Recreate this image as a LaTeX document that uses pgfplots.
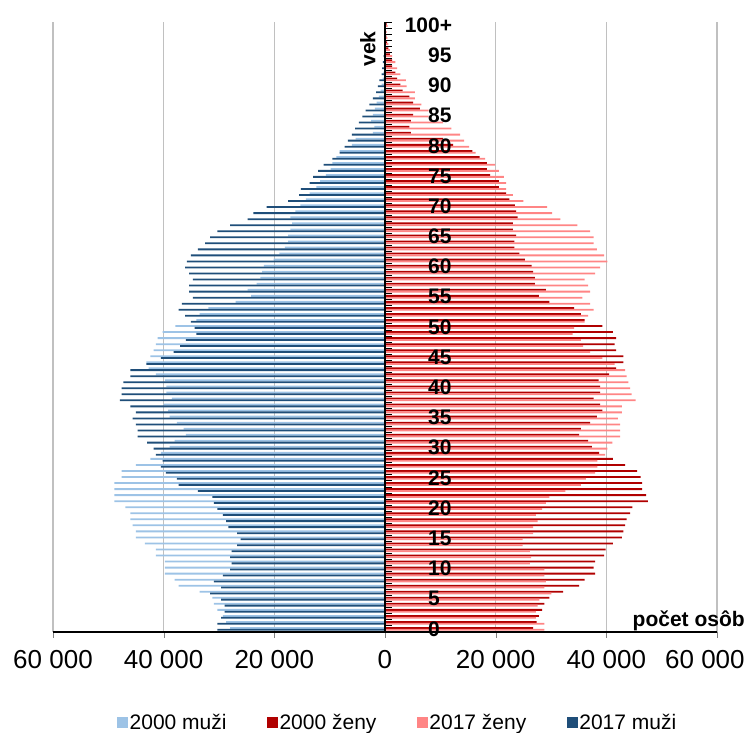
\documentclass[border=0pt]{standalone}
\usepackage{pgfplots}
\pgfplotsset{compat=1.18}
\usepackage{pgfplotstable}
\usepackage{fontspec}
\setmainfont{Liberation Sans}

\definecolor{mA}{HTML}{9DC3E6}% 2000 muzi
\definecolor{fA}{HTML}{B00000}% 2000 zeny
\definecolor{fB}{HTML}{FF8585}% 2017 zeny
\definecolor{mB}{HTML}{1F4E79}% 2017 muzi
\definecolor{gridgray}{HTML}{C0C0C0}

% grid under the bars, tick labels and axis lines over them
\pgfplotsset{
  layers/barsmid/.define layer set={axis background,axis grid,main,axis ticks,axis lines,axis tick labels,axis descriptions,axis foreground}{
    grid style={/pgfplots/on layer=axis grid},
    tick style={/pgfplots/on layer=axis ticks},
    axis line style={/pgfplots/on layer=axis lines},
    label style={/pgfplots/on layer=axis descriptions},
    legend style={/pgfplots/on layer=axis descriptions},
    title style={/pgfplots/on layer=axis descriptions},
    colorbar style={/pgfplots/on layer=axis descriptions},
    ticklabel style={/pgfplots/on layer=axis tick labels},
    axis background@ style={/pgfplots/on layer=axis background},
    3d box foreground style={/pgfplots/on layer=axis foreground},
  },
}

% age, 2000 men, 2000 women, 2017 women, 2017 men
\pgfplotstableread{
age m2000 f2000 f2017 m2017
0 28000 26800 28800 30300
1 28700 27400 28800 30300
2 29300 27800 27300 29600
3 30300 28400 27300 29000
4 30900 28800 27600 29000
5 31200 29700 27900 29600
6 33500 32200 30100 31600
7 37300 35100 28800 29600
8 38000 36100 29100 30900
9 39800 38000 28800 29300
10 39800 37700 28800 28000
11 39800 38000 26200 27700
12 41400 39600 26400 28000
13 41400 39900 26200 27700
14 43400 41200 24900 26700
15 45000 42800 24900 26100
16 45000 43100 26800 26700
17 45600 43400 26800 28300
18 46000 43700 27600 28700
19 46000 44300 27300 29300
20 46900 44700 28400 30300
21 48900 47500 29100 30900
22 48900 47200 29700 31200
23 48900 46500 32600 33800
24 48900 46500 35400 37300
25 47600 46200 36300 37600
26 47600 45600 38000 39600
27 45000 43400 38400 40500
28 42400 41200 38400 40200
29 40500 38700 39800 41400
30 38900 37400 40200 41800
31 38000 36700 41100 43000
32 36000 35100 42500 44700
33 36400 35400 42500 44700
34 37600 37100 42500 45000
35 38900 38300 42100 45600
36 39200 39300 42800 45000
37 40000 38900 42800 46000
38 38500 37700 45300 47900
39 39500 38900 44600 47600
40 39500 38900 44300 47600
41 39800 38600 44000 47300
42 41400 40500 43700 46000
43 42700 41800 43400 46000
44 43100 43100 41500 43100
45 42400 43100 39300 40500
46 41800 41800 37100 38200
47 41400 41500 35800 37000
48 41100 41800 35400 36000
49 40200 41200 33900 34100
50 37900 39300 34200 34400
51 34100 36100 36100 35100
52 33500 35400 36700 36100
53 31900 34200 37700 37300
54 27000 29700 37100 36700
55 24200 27800 35700 34700
56 24800 29100 37100 35400
57 23200 27100 36700 35400
58 22500 27100 36100 34700
59 22200 26800 38000 35400
60 21900 26500 38900 36100
61 20100 25300 40200 35800
62 19100 24300 39600 35100
63 18100 23400 38300 33800
64 17500 23400 37700 32500
65 17500 23700 37700 31600
66 17100 23100 37100 30300
67 16800 23100 34800 28000
68 17100 24000 31700 24800
69 16200 23700 30200 23800
70 15300 23500 29300 21400
71 14300 22500 25000 17500
72 13600 21900 23100 15500
73 12400 20600 21900 15200
74 11700 20600 21900 13600
75 10700 19000 21500 13000
76 9800 18400 20600 12100
77 9500 18400 19900 11100
78 8800 17100 18100 9500
79 8200 15800 16400 8200
80 6000 12300 15200 7300
81 5300 10500 14300 6700
82 2200 4700 13600 6000
83 1900 4400 12000 5400
84 2500 4700 10500 4700
85 2200 5100 7900 4100
86 1800 6300 7900 3500
87 1500 5100 6600 2800
88 1100 4400 5400 2200
89 800 3200 5400 1600
90 600 2800 3900 1300
91 400 2200 3800 1000
92 300 1900 2800 600
93 200 1300 2200 500
94 130 1300 1900 360
95 90 900 1300 240
96 60 600 900 150
97 40 400 600 100
98 25 250 450 60
99 15 150 300 40
100 20 300 500 50
}\pyramid

\begin{document}
\begin{tikzpicture}[x=1pt,y=1pt]
\begin{axis}[
    set layers=barsmid,
    at={(0,0)}, anchor=south west,
    scale only axis,
    width=664pt, height=610pt,
    xmin=-60000, xmax=60000,
    ymin=-0.5, ymax=100.5,
    axis x line=bottom,
    axis y line=center,
    axis line style={-, black, line width=1.2pt},
    xtick={-60000,-40000,-20000,0,20000,40000,60000},
    xticklabels={60 000,40 000,20 000,0,20 000,40 000,{\hspace*{-24pt}60 000}},
    scaled x ticks=false,
    xtick align=outside,
    major tick length=6pt,
    xmajorgrids,
    major grid style={gridgray, line width=1.2pt},
    xticklabel style={font=\fontsize{26}{30}\selectfont, yshift=-9pt},
    ytick={0,5,...,100},
    yticklabels={0,5,10,15,20,25,30,35,40,45,50,55,60,65,70,75,80,85,90,95,{\llap{10}0+}},
    yticklabel style={font=\bfseries\fontsize{21}{25}\selectfont, anchor=west, inner sep=0pt, xshift=46pt},
    every major y tick/.append style={draw=none},
    minor ytick={-0.5,0.5,...,100.5},
    minor tick length=7pt,
    every minor y tick/.append style={black, line width=0.9pt, xshift=3.5pt},
    legend columns=4,
    legend cell align=left,
    legend image code/.code={\fill[#1] (0pt,-5.5pt) rectangle (11pt,5.5pt);},
    legend style={at={(0.0964,-0.1492)}, anchor=west, draw=none, fill=none,
        inner sep=0pt, font=\fontsize{21}{25}\selectfont,
        nodes={inner sep=1.5pt},
        /tikz/every even column/.append style={column sep=39pt}},
]
\addplot[xbar, bar width=0.3, bar shift=0pt, fill=mA, draw=none]
    table[x expr=-\thisrow{m2000}, y expr=\thisrow{age}+0.15] {\pyramid};
\addlegendentry{2000 muži}
\addplot[xbar, bar width=0.3, bar shift=0pt, fill=fA, draw=none]
    table[x=f2000, y expr=\thisrow{age}+0.15] {\pyramid};
\addlegendentry{2000 ženy}
\addplot[xbar, bar width=0.3, bar shift=0pt, fill=fB, draw=none]
    table[x=f2017, y expr=\thisrow{age}-0.15] {\pyramid};
\addlegendentry{2017 ženy}
\addplot[xbar, bar width=0.3, bar shift=0pt, fill=mB, draw=none]
    table[x expr=-\thisrow{m2017}, y expr=\thisrow{age}-0.15] {\pyramid};
\addlegendentry{2017 muži}
\end{axis}
\node[rotate=90, font=\bfseries\fontsize{21}{25}\selectfont] at (315,583) {vek};
\node[anchor=east, inner sep=0pt, font=\bfseries\fontsize{21}{25}\selectfont] at (692,11) {počet osôb};
\path (-53,-101) rectangle (695,632);
\end{tikzpicture}
\end{document}
